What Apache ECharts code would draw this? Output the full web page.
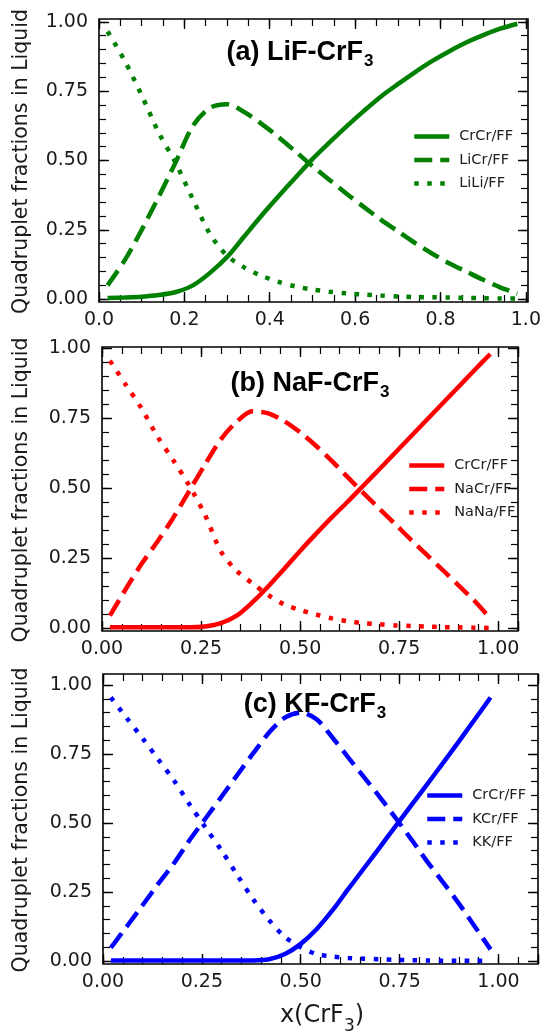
<!DOCTYPE html>
<html>
<head>
<meta charset="utf-8">
<script src="https://cdn.jsdelivr.net/npm/echarts@6/dist/echarts.min.js"></script>
<style>
  html, body { margin: 0; padding: 0; background: #fff; }
  #chart { width: 547px; height: 1032px; }
</style>
</head>
<body>
<div id="chart"></div>
<script>
// ---- (a) LiF-CrF3 ----
const xA = [0.02, 0.06, 0.10, 0.14, 0.18, 0.22, 0.26, 0.30, 0.34, 0.38, 0.42, 0.46, 0.50, 0.54, 0.58, 0.62, 0.66, 0.70, 0.74, 0.78, 0.82, 0.86, 0.90, 0.94, 0.98];
const aCrCr = [0.004, 0.006, 0.009, 0.015, 0.026, 0.05, 0.095, 0.152, 0.226, 0.3, 0.37, 0.438, 0.505, 0.565, 0.623, 0.678, 0.73, 0.775, 0.818, 0.858, 0.893, 0.925, 0.952, 0.975, 0.993];
const aLiCr = [0.05, 0.14, 0.25, 0.37, 0.495, 0.625, 0.69, 0.703, 0.675, 0.633, 0.585, 0.533, 0.48, 0.43, 0.38, 0.333, 0.287, 0.245, 0.203, 0.165, 0.13, 0.1, 0.07, 0.043, 0.02];
const aLiLi = [0.965, 0.86, 0.735, 0.6, 0.49, 0.36, 0.235, 0.157, 0.115, 0.085, 0.063, 0.046, 0.035, 0.027, 0.021, 0.017, 0.013, 0.01, 0.008, 0.007, 0.006, 0.005, 0.004, 0.003, 0.003];

// ---- (b) NaF-CrF3 ----
const xB = [0.02, 0.06, 0.10, 0.14, 0.18, 0.22, 0.26, 0.30, 0.34, 0.38, 0.42, 0.46, 0.50, 0.54, 0.58, 0.62, 0.66, 0.70, 0.74, 0.78, 0.82, 0.86, 0.90, 0.94, 0.98];
const bCrCr = [0.003, 0.003, 0.003, 0.003, 0.003, 0.003, 0.006, 0.018, 0.045, 0.093, 0.15, 0.212, 0.276, 0.337, 0.396, 0.452, 0.51, 0.568, 0.627, 0.686, 0.745, 0.804, 0.863, 0.922, 0.98];
const bNaCr = [0.045, 0.14, 0.23, 0.31, 0.395, 0.49, 0.585, 0.675, 0.738, 0.775, 0.768, 0.74, 0.7, 0.652, 0.598, 0.54, 0.483, 0.427, 0.372, 0.316, 0.262, 0.208, 0.153, 0.098, 0.035];
const bNaNa = [0.956, 0.87, 0.785, 0.685, 0.6, 0.51, 0.405, 0.275, 0.205, 0.16, 0.118, 0.085, 0.065, 0.049, 0.035, 0.025, 0.018, 0.014, 0.01, 0.008, 0.006, 0.004, 0.003, 0.002, 0.001];

// ---- (c) KF-CrF3 ----
const xC = [0.02, 0.06, 0.10, 0.14, 0.18, 0.22, 0.26, 0.30, 0.34, 0.38, 0.42, 0.46, 0.50, 0.54, 0.58, 0.62, 0.66, 0.70, 0.74, 0.78, 0.82, 0.86, 0.90, 0.94, 0.98];
const cCrCr = [0.002, 0.002, 0.002, 0.002, 0.002, 0.002, 0.002, 0.002, 0.002, 0.002, 0.006, 0.025, 0.062, 0.115, 0.183, 0.26, 0.336, 0.412, 0.489, 0.565, 0.641, 0.718, 0.796, 0.875, 0.955];
const cKCr = [0.048, 0.125, 0.202, 0.28, 0.355, 0.44, 0.518, 0.596, 0.675, 0.753, 0.828, 0.882, 0.9, 0.876, 0.81, 0.738, 0.666, 0.594, 0.518, 0.44, 0.36, 0.285, 0.208, 0.125, 0.042];
const cKK = [0.955, 0.88, 0.807, 0.73, 0.653, 0.565, 0.482, 0.4, 0.31, 0.223, 0.148, 0.087, 0.05, 0.025, 0.016, 0.011, 0.008, 0.006, 0.004, 0.003, 0.002, 0.001, 0.001, 0.001, 0.001];

// ---- labels and ticks ----
const namesA = ['CrCr/FF', 'LiCr/FF', 'LiLi/FF'];
const namesB = ['CrCr/FF', 'NaCr/FF', 'NaNa/FF'];
const namesC = ['CrCr/FF', 'KCr/FF', 'KK/FF'];
const titleA = ['(a) LiF-CrF', '3'];
const titleB = ['(b) NaF-CrF', '3'];
const titleC = ['(c) KF-CrF', '3'];
const yLabel = 'Quadruplet fractions in Liquid';
const xLabel = ['x(CrF', '3', ')'];
const yMajor = [0, 0.25, 0.5, 0.75, 1.0];
const xMajorA = [0, 0.2, 0.4, 0.6, 0.8, 1.0];
const xMajorBC = [0, 0.25, 0.5, 0.75, 1.0];

const TICK_FONT = 'DejaVu Sans';
const INK = '#1a1a1a';
const MAJOR_LEN = 10;
const MINOR_LEN = 7;
const MINOR_STEP = 0.05;

// panel layout: plot box in pixels and axis ranges
const panels = [
  { key: 'a', box: { left: 99, top: 19, width: 429, height: 283 }, xr: [0, 1.005], yr: [-0.01, 1.01],
    x: xA, ys: [aCrCr, aLiCr, aLiLi], names: namesA, color: '#008000', xMajor: xMajorA, xStep: 0.2, dec: 1,
    title: titleA, titlePos: [300, 39], legend: { left: 412, top: 129 } },
  { key: 'b', box: { left: 102, top: 347, width: 416, height: 284 }, xr: [0, 1.05], yr: [-0.01, 1.005],
    x: xB, ys: [bCrCr, bNaCr, bNaNa], names: namesB, color: '#ff0000', xMajor: xMajorBC, xStep: 0.25, dec: 2,
    title: titleB, titlePos: [310, 370], legend: { left: 407, top: 458 } },
  { key: 'c', box: { left: 103, top: 674, width: 435, height: 290 }, xr: [0, 1.1], yr: [-0.011, 1.04],
    x: xC, ys: [cCrCr, cKCr, cKK], names: namesC, color: '#0000ff', xMajor: xMajorBC, xStep: 0.25, dec: 2,
    title: titleC, titlePos: [315, 691], legend: { left: 425, top: 788 } }
];

const LW = 4.5;
const dashTypes = ['solid', [18, 8], [4.5, 8.5]];

const grid = [], xAxis = [], yAxis = [], series = [], legend = [], graphic = [];

const hiddenAxis = gIdx => ({ type: 'value', gridIndex: gIdx, show: false, min: 0, max: 1 });

// Inward tick marks: a thin strip grid along one frame edge whose split lines,
// one per tick value, are exactly as long as the strip is deep.
function tickStrip(box, dim, range, step, lineWidth) {
  const gIdx = grid.length;
  grid.push(Object.assign({ containLabel: false, show: false }, box));
  const active = {
    type: 'value', gridIndex: gIdx, min: 0, max: range, interval: step,
    axisLine: { show: false, onZero: false }, axisTick: { show: false }, axisLabel: { show: false },
    splitLine: { show: true, showMinLine: true, showMaxLine: true, lineStyle: { color: '#000', width: lineWidth } }
  };
  if (dim === 'x') { xAxis.push(active); yAxis.push(hiddenAxis(gIdx)); }
  else { yAxis.push(active); xAxis.push(hiddenAxis(gIdx)); }
}

panels.forEach(p => {
  const b = p.box;
  // main framed grid holding the tick labels and the curves
  const gIdx = grid.length;
  grid.push(Object.assign({ containLabel: false, show: true, borderColor: '#000', borderWidth: 1.6, backgroundColor: 'transparent' }, b));
  p.axisIndex = xAxis.length;
  xAxis.push({
    type: 'value', gridIndex: gIdx, min: p.xr[0], max: p.xr[1], position: 'bottom',
    splitLine: { show: false }, axisLine: { show: false, onZero: false }, axisTick: { show: false },
    axisLabel: { show: true, customValues: p.xMajor, formatter: v => v.toFixed(p.dec), margin: 9, fontFamily: TICK_FONT, fontSize: 19, color: INK }
  });
  yAxis.push({
    type: 'value', gridIndex: gIdx, min: p.yr[0], max: p.yr[1], position: 'left',
    splitLine: { show: false }, axisLine: { show: false, onZero: false }, axisTick: { show: false },
    axisLabel: { show: true, customValues: yMajor, formatter: v => v.toFixed(2), margin: 11, fontFamily: TICK_FONT, fontSize: 19, color: INK }
  });

  // pixel span of x in [0, xEnd] and of y in [0, 1] inside this box
  const xEnd = Math.floor(p.xr[1] / MINOR_STEP + 1e-9) * MINOR_STEP;
  const xWidth = b.width * (xEnd - p.xr[0]) / (p.xr[1] - p.xr[0]);
  const yTop = b.top + b.height * (p.yr[1] - 1) / (p.yr[1] - p.yr[0]);
  const yHeight = b.height / (p.yr[1] - p.yr[0]);

  [[MAJOR_LEN, p.xStep, 0.25, 1.4], [MINOR_LEN, MINOR_STEP, MINOR_STEP, 1.2]].forEach(([len, xs, ys, lw]) => {
    tickStrip({ left: b.left, width: xWidth, top: b.top + b.height - len, height: len }, 'x', xEnd, xs, lw); // bottom
    tickStrip({ left: b.left, width: xWidth, top: b.top, height: len }, 'x', xEnd, xs, lw);                   // top
    tickStrip({ left: b.left, width: len, top: yTop, height: yHeight }, 'y', 1, ys, lw);                       // left
    tickStrip({ left: b.left + b.width - len, width: len, top: yTop, height: yHeight }, 'y', 1, ys, lw);       // right
  });
});

panels.forEach(p => {
  const legendData = [];
  p.names.forEach((nm, si) => {
    const sname = p.key + ':' + nm;
    const ls = { color: p.color, width: LW, type: dashTypes[si], cap: 'butt' };
    series.push({
      name: sname, type: 'line', xAxisIndex: p.axisIndex, yAxisIndex: p.axisIndex,
      data: p.x.map((xv, i) => [xv, p.ys[si][i]]),
      showSymbol: false, symbol: 'none', smooth: 0.3, clip: true, z: 5,
      lineStyle: ls, itemStyle: { color: p.color },
      emphasis: { disabled: true }
    });
    legendData.push({ name: sname, itemStyle: { opacity: 0 }, lineStyle: ls });
  });
  legend.push({
    orient: 'vertical', left: p.legend.left, top: p.legend.top, padding: 0,
    itemWidth: 35, itemHeight: 14, itemGap: 8.5, selectedMode: false,
    data: legendData, formatter: n => n.slice(2),
    textStyle: { fontFamily: TICK_FONT, fontSize: 14.5, color: '#222', padding: [0, 0, 0, 5] }
  });

  // panel title with subscript
  graphic.push({
    type: 'text', x: p.titlePos[0], y: p.titlePos[1], z: 10,
    style: {
      text: '{t|' + p.title[0] + '}{s|' + p.title[1] + '}',
      align: 'center', verticalAlign: 'top',
      rich: {
        t: { fontFamily: 'Liberation Sans', fontWeight: 'bold', fontSize: 27, lineHeight: 27, verticalAlign: 'top', fill: '#000' },
        s: { fontFamily: 'Liberation Sans', fontWeight: 'bold', fontSize: 17, lineHeight: 17, padding: [14, 0, 0, 1], verticalAlign: 'top', fill: '#000' }
      }
    }
  });
  // y axis name
  graphic.push({
    type: 'text', x: 22, y: p.box.top + p.box.height / 2 + 1, rotation: Math.PI / 2, z: 10,
    style: { text: yLabel, align: 'center', verticalAlign: 'middle', fontFamily: TICK_FONT, fontSize: 20.5, fill: INK }
  });
});

// x axis name under the bottom panel
graphic.push({
  type: 'text', x: 322, y: 1004, z: 10,
  style: {
    text: '{t|' + xLabel[0] + '}{s|' + xLabel[1] + '}{t|' + xLabel[2] + '}',
    align: 'center', verticalAlign: 'top',
    rich: {
      t: { fontFamily: TICK_FONT, fontSize: 24, lineHeight: 27, verticalAlign: 'top', fill: INK },
      s: { fontFamily: TICK_FONT, fontSize: 17, lineHeight: 17, padding: [14, 0, 0, 0], verticalAlign: 'top', fill: INK }
    }
  }
});

const chart = echarts.init(document.getElementById('chart'), null, { renderer: 'canvas' });
chart.setOption({
  animation: false,
  backgroundColor: '#fff',
  grid, xAxis, yAxis, series, legend, graphic
});
</script>
</body>
</html>
